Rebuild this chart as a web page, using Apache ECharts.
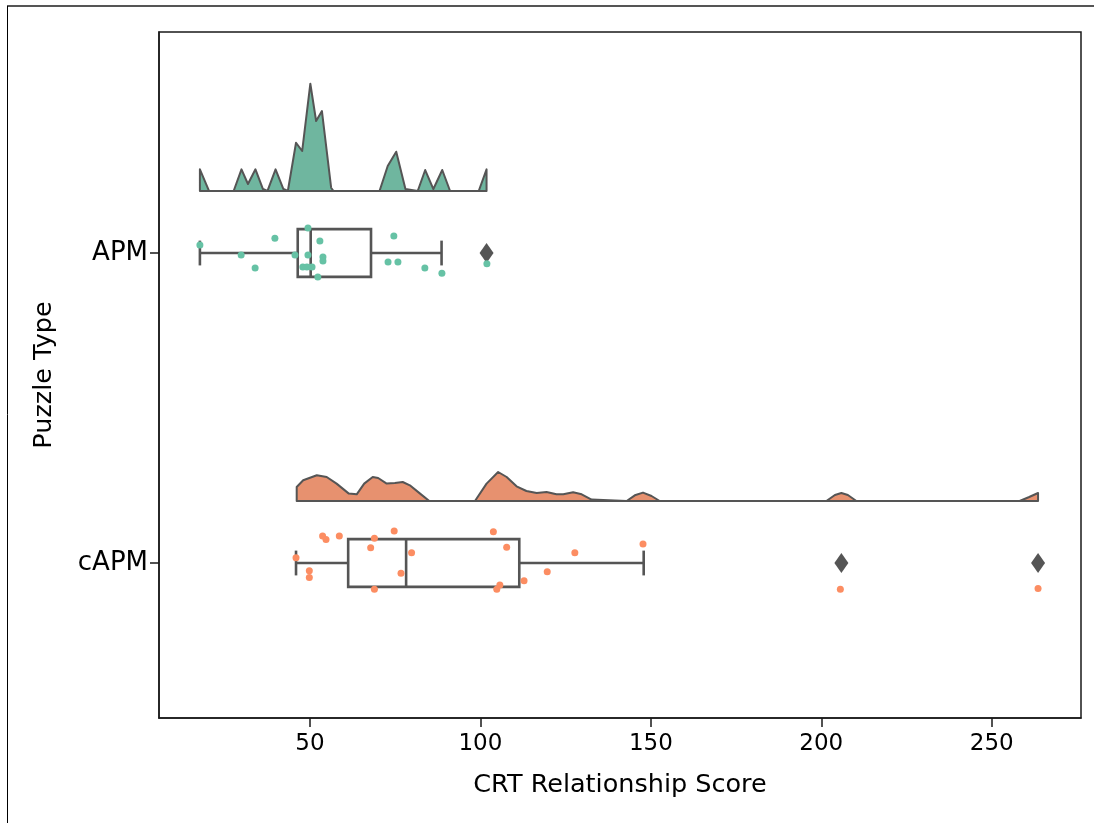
<!DOCTYPE html>
<html><head><meta charset="utf-8">
<script src="https://cdn.jsdelivr.net/npm/echarts@6/dist/echarts.min.js"></script>
<style>html,body{margin:0;padding:0;background:#fff}#c{width:1094px;height:823px}</style>
</head><body><div id="c"></div>
<script>
// ---- data ----
const categories = ['APM', 'cAPM'];
const xTicks = [50, 100, 150, 200, 250];

// strip points (value, vertical jitter in category units)
const apmValues = [17.7, 29.8, 33.9, 39.7, 45.6, 49.4, 49.4, 47.9, 49.1, 50.6, 52.9, 53.8, 53.8, 52.3, 74.6, 72.9, 75.8, 83.7, 88.7, 101.9];
const apmJitter = [-0.026, 0.006, 0.048, -0.048, 0.006, -0.081, 0.006, 0.045, 0.045, 0.045, -0.039, 0.013, 0.026, 0.077, -0.055, 0.029, 0.029, 0.048, 0.065, 0.035];
const capmValues = [45.9, 49.8, 49.8, 53.7, 54.7, 58.6, 68.9, 67.8, 74.7, 79.8, 76.7, 68.9, 103.8, 107.7, 112.8, 105.7, 104.8, 119.6, 127.7, 147.7, 205.6, 263.6];
const capmJitter = [-0.017, 0.025, 0.047, -0.087, -0.076, -0.087, -0.080, -0.049, -0.103, -0.033, 0.033, 0.085, -0.101, -0.051, 0.057, 0.071, 0.085, 0.028, -0.033, -0.061, 0.085, 0.082];

// box statistics: [low whisker, Q1, median, Q3, high whisker]
const apmBox = [17.7, 46.4, 50.2, 67.9, 88.6];
const capmBox = [45.9, 61.2, 78.2, 111.4, 147.9];
const apmOutliers = [101.8];
const capmOutliers = [205.9, 263.6];

// half-violin outline (x value, relative density)
const apmViolinX = [17.7, 20.4, 27.6, 29.9, 31.8, 34.0, 36.2, 37.5, 39.9, 42.2, 43.5, 45.9, 47.7, 50.1, 51.8, 53.5, 56.2, 56.9, 70.4, 72.8, 75.3, 78.0, 81.6, 83.8, 86.2, 88.8, 91.1, 99.5, 101.8];
const apmViolinD = [21.7, 0, 0, 21.7, 7, 21.7, 2, 0, 21.7, 2, 0, 48.3, 40, 107.3, 70, 80, 3.3, 0, 0, 25, 39.3, 2, 0, 21, 2, 21, 0, 0, 21.7];
const capmViolinX = [46.1, 48.0, 52.0, 54.9, 57.8, 61.4, 63.7, 65.9, 68.4, 70.0, 72.5, 74.9, 77.2, 79.3, 82.3, 85.0, 98.4, 101.8, 105.2, 107.7, 110.6, 113.5, 116.5, 119.4, 122.3, 124.3, 127.2, 129.7, 132.6, 142.9, 145.3, 147.7, 150.2, 152.6, 201.5, 204.0, 205.9, 207.8, 210.3, 258.2, 261.0, 263.6];
const capmViolinD = [14, 20.7, 25.7, 24, 17.4, 7.4, 6.7, 17.4, 24, 23, 17.4, 18, 19, 15.7, 7.4, 0, 0, 17.4, 29, 24, 14.7, 10, 8, 9, 6.7, 6.7, 8.7, 6.7, 1.4, 0, 5.7, 8.4, 5, 0, 0, 6, 8, 6, 0, 0, 4, 8];

// ---- styling ----
const DENSITY_SCALE = 310;   // density units per category step
const VIOLIN_BASE = -0.2;
const BOX_HALF = 0.077;
const CAP_HALF = 0.04;
const FONT = 'DejaVu Sans';
const TXT = '#000';
const EDGE = '#555555';
const violinFill = ['#6fb69f', '#e7916f'];
const pointColor = ['#66c2a5', '#fc8d62'];

const violins = [[apmViolinX, apmViolinD], [capmViolinX, capmViolinD]];
const boxes = [apmBox, capmBox];

const chart = echarts.init(document.getElementById('c'), null, {renderer: 'canvas'});

const option = {
  animation: false,
  backgroundColor: '#fff',
  grid: {left: 159, right: 13, top: 32, bottom: 105, show: true, borderColor: '#1a1a1a', borderWidth: 1.5, backgroundColor: 'transparent'},
  graphic: [
    {type: 'line', shape: {x1: 7, y1: 6, x2: 1094, y2: 6}, style: {stroke: '#555', lineWidth: 2}, z: 100},
    {type: 'line', shape: {x1: 7.5, y1: 6, x2: 7.5, y2: 823}, style: {stroke: '#000', lineWidth: 1}, z: 100}
  ],
  xAxis: {
    type: 'value', min: 5.7, max: 276.2,
    name: 'CRT Relationship Score', nameLocation: 'middle', nameGap: 54,
    nameTextStyle: {fontFamily: FONT, fontSize: 25.5, color: TXT},
    axisLine: {show: true, onZero: false, lineStyle: {color: '#1a1a1a', width: 1.5}},
    axisTick: {show: true, length: 9, lineStyle: {color: '#1a1a1a', width: 1.5}, customValues: xTicks},
    axisLabel: {fontFamily: FONT, fontSize: 23, color: TXT, margin: 15, customValues: xTicks},
    splitLine: {show: false}
  },
  yAxis: {
    type: 'value', min: -0.713, max: 1.5, inverse: true,
    name: 'Puzzle Type', nameLocation: 'middle', nameRotate: 90, nameGap: 102,
    nameTextStyle: {fontFamily: FONT, fontSize: 25.5, color: TXT},
    axisLine: {show: true, onZero: false, lineStyle: {color: '#1a1a1a', width: 1.5}},
    axisTick: {show: true, length: 9, lineStyle: {color: '#1a1a1a', width: 1.5}, customValues: [0, 1]},
    axisLabel: {fontFamily: FONT, fontSize: 26, color: TXT, margin: 11, customValues: [0, 1],
      formatter: v => categories[Math.round(v)] || ''},
    splitLine: {show: false}
  },
  series: [
    {
      type: 'custom', z: 1,
      data: categories.map((c, i) => [violins[i][0][0], i]),
      renderItem: (params, api) => {
        const ci = params.dataIndex;
        const xs = violins[ci][0], ds = violins[ci][1];
        const pts = [api.coord([xs[0], ci + VIOLIN_BASE])];
        for (let k = 0; k < xs.length; k++) pts.push(api.coord([xs[k], ci + VIOLIN_BASE - ds[k] / DENSITY_SCALE]));
        pts.push(api.coord([xs[xs.length - 1], ci + VIOLIN_BASE]));
        return {type: 'polygon', shape: {points: pts}, style: {fill: violinFill[ci], stroke: EDGE, lineWidth: 2, lineJoin: 'round'}};
      }
    },
    {
      type: 'custom', z: 2,
      data: categories.map((c, i) => [boxes[i][2], i]),
      renderItem: (params, api) => {
        const ci = params.dataIndex;
        const b = boxes[ci];
        const P = (x, y) => api.coord([x, ci + y]);
        const st = {stroke: EDGE, lineWidth: 2.6, fill: null};
        const line = (a, c) => ({type: 'line', shape: {x1: a[0], y1: a[1], x2: c[0], y2: c[1]}, style: st});
        const tl = P(b[1], -BOX_HALF), br = P(b[3], BOX_HALF);
        return {type: 'group', children: [
          line(P(b[0], 0), P(b[1], 0)),
          line(P(b[3], 0), P(b[4], 0)),
          line(P(b[0], -CAP_HALF), P(b[0], CAP_HALF)),
          line(P(b[4], -CAP_HALF), P(b[4], CAP_HALF)),
          {type: 'rect', shape: {x: tl[0], y: tl[1], width: br[0] - tl[0], height: br[1] - tl[1]}, style: {stroke: EDGE, lineWidth: 2.6, fill: '#fff'}},
          line(P(b[2], -BOX_HALF), P(b[2], BOX_HALF))
        ]};
      }
    },
    {
      type: 'scatter', z: 3, symbol: 'diamond', symbolSize: [14, 20],
      itemStyle: {color: EDGE, opacity: 1},
      data: apmOutliers.map(v => [v, 0]).concat(capmOutliers.map(v => [v, 1]))
    },
    {
      type: 'scatter', z: 4, symbolSize: 7, itemStyle: {color: pointColor[0], opacity: 1},
      data: apmValues.map((v, i) => [v, 0 + apmJitter[i]])
    },
    {
      type: 'scatter', z: 4, symbolSize: 7, itemStyle: {color: pointColor[1], opacity: 1},
      data: capmValues.map((v, i) => [v, 1 + capmJitter[i]])
    }
  ]
};
chart.setOption(option);
</script>
</body></html>
